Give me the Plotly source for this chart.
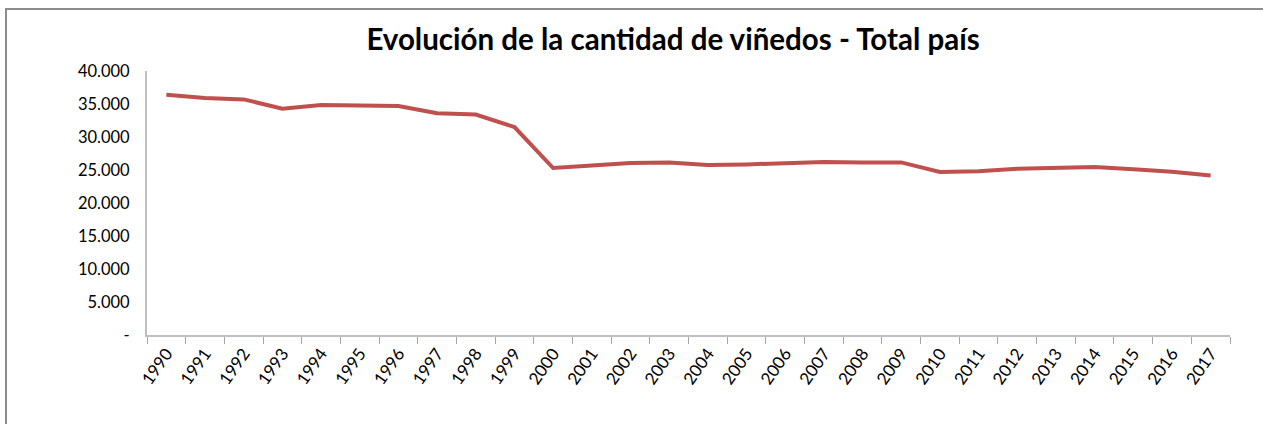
import plotly.graph_objects as go

years = [str(y) for y in range(1990, 2018)]
vinedos = [36400, 35900, 35700, 34300, 34850, 34800, 34700, 33600, 33400, 31500,
           25300, 25700, 26050, 26150, 25750, 25850, 26100, 26200, 26150, 26150,
           24700, 24800, 25200, 25300, 25450, 25100, 24750, 24150]
ytick_vals = [0, 5000, 10000, 15000, 20000, 25000, 30000, 35000, 40000]
ytick_text = ["-", "5.000", "10.000", "15.000", "20.000", "25.000", "30.000", "35.000", "40.000"]

W, H = 1263, 424
L, R, T, B = 147, 33, 71, 89
pw, ph = W - L - R, H - T - B

def px(x):
    return (x - L) / pw

def py(y):
    return (H - B - y) / ph

bcol = "#8C8C8C"

fig = go.Figure()
fig.add_trace(go.Scatter(x=years, y=vinedos, mode="lines",
                         line=dict(color="#C0504D", width=4)))

fig.update_layout(
    width=W, height=H,
    margin=dict(l=L, r=R, t=T, b=B),
    paper_bgcolor="white", plot_bgcolor="white",
    showlegend=False,
    title=dict(text="<b>Evolución de la cantidad de viñedos - Total país</b>",
               x=(673) / W, xanchor="center", y=1 - 40 / H, yanchor="middle",
               font=dict(family="Lato, Open Sans, sans-serif", size=29.5, color="black")),
    font=dict(family="Lato, Open Sans, sans-serif", size=16, color="black"),
    xaxis=dict(type="category", range=[-0.5, 27.5], showgrid=False,
               showline=True, linecolor="#BFBFBF", linewidth=2,
               ticks="outside", tickson="boundaries", ticklen=7, tickcolor="#A6A6A6",
               tickangle=-55, tickfont=dict(size=17)),
    yaxis=dict(range=[0, 40000], showgrid=False, zeroline=False,
               showline=True, linecolor="#BFBFBF", linewidth=2,
               tickvals=ytick_vals, ticktext=ytick_text, ticks="",
               ticklabelstandoff=12, tickfont=dict(size=16.5)),
    shapes=[
        dict(type="rect", xref="paper", yref="paper",
             x0=px(5), x1=px(1263), y0=py(10), y1=py(8),
             fillcolor=bcol, line=dict(width=0), layer="above"),
        dict(type="rect", xref="paper", yref="paper",
             x0=px(5), x1=px(7), y0=py(424), y1=py(8),
             fillcolor=bcol, line=dict(width=0), layer="above"),
    ],
)

frame_js = (
    "document.documentElement.style.margin='0';"
    "document.body.style.margin='0';document.body.style.padding='0';"
    "document.body.style.overflow='hidden';window.scrollTo(0,0);"
    "var f=document.createElement('div');"
    "f.style.cssText='position:fixed;left:5px;top:8px;width:2000px;height:2000px;"
    "border-top:2px solid #8C8C8C;border-left:2px solid #8C8C8C;"
    "pointer-events:none;z-index:1000;box-sizing:border-box;';"
    "document.body.appendChild(f);"
)

fig.write_html("out.html", config={"displayModeBar": False}, post_script=frame_js)
